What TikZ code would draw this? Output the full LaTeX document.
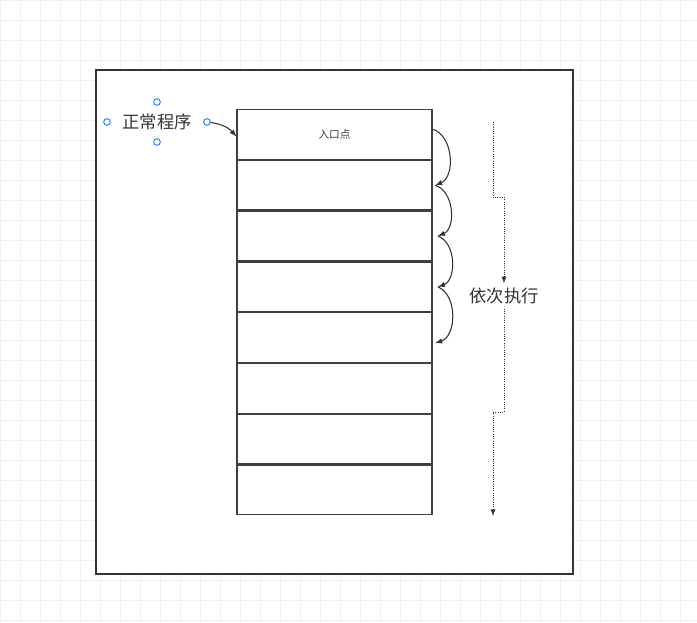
\documentclass[tikz,border=0pt]{standalone}
\usepackage{fontspec}
\setmainfont{Noto Sans CJK SC}
\usetikzlibrary{positioning}

\begin{document}
\begin{tikzpicture}[
    x=0.75pt, y=-0.75pt,
    cell/.style={draw=black!75, line width=0.9pt, minimum width=146.25pt, minimum height=37.2pt, inner sep=0pt, font=\fontsize{8}{9}\selectfont, text=black!75},
    handle/.style={draw=blue!60!cyan, line width=0.6pt, circle, fill=white, inner sep=0pt, minimum size=5pt},
    arrow/.style={-latex, line width=0.8pt, black!80},
    flow/.style={-latex, densely dotted, line width=0.7pt, black!80}
]
    % Background
    \useasboundingbox (0,0) rectangle (697,623);
    \draw[black!6, step=15pt] (0,0) grid (697,623);
    \draw[black!80, fill=white, line width=0.8pt] (96,70) rectangle (573,574);

    % Memory cells
    \node[cell] (r1) at (334.5,134.5) {入口点};
    \foreach \i [count=\j from 1] in {2,...,8}
        \node[cell, below=0pt of r\j] (r\i) {};

    % Label with handles
    \node[font=\fontsize{13}{15}\selectfont, text=black!80] (prog) at (157,122) {正常程序};
    \node[handle] (hn) at (157,102) {};
    \node[handle] (hs) at (157,142) {};
    \node[handle] (hw) at (107,122) {};
    \node[handle] (he) at (207,122) {};
    \draw[arrow] (he) to[bend left=20] ([yshift=-1.5pt]r1.west);

    % Sequence arrows
    \draw[arrow] ([yshift=4pt]r1.east) to[bend left=70] ([xshift=2pt]r2.east);
    \draw[arrow] ([xshift=2pt]r2.east) to[bend left=70] ([xshift=4pt]r3.east);
    \draw[arrow] ([xshift=4pt]r3.east) to[bend left=70] ([xshift=4pt]r4.east);
    \draw[arrow] ([xshift=4pt]r4.east) to[bend left=70] ([xshift=2pt,yshift=-4pt]r5.east);

    % Order label
    \node[font=\fontsize{13}{15}\selectfont, text=black!80] (order) at (504,296) {依次执行};
    \coordinate (top) at (493,122);
    \coordinate (bot) at (493,516);
    \draw[flow] (top) -- (493,197) -- (504,197) -- (order.north);
    \draw[flow] (order.south) -- (504,412) -- (493,412) -- (bot);
\end{tikzpicture}
\end{document}
